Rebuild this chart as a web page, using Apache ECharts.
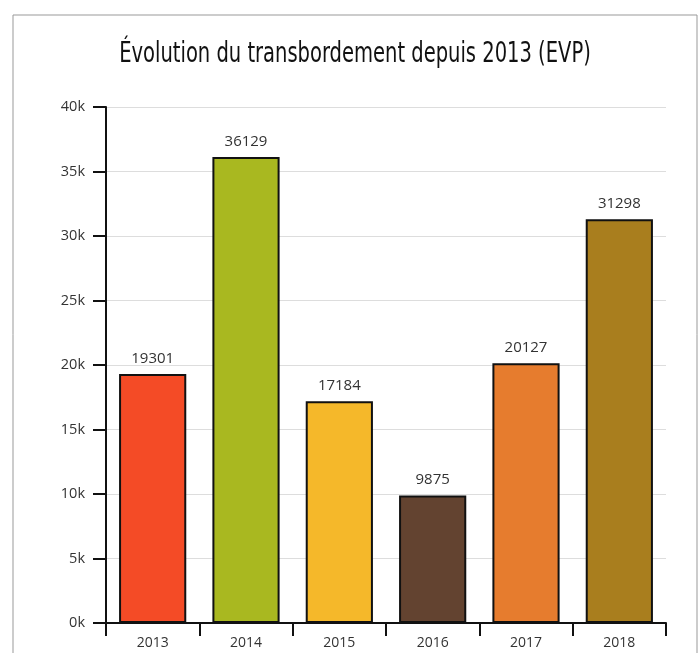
<!DOCTYPE html>
<html>
<head>
<meta charset="utf-8">
<script src="https://cdn.jsdelivr.net/npm/echarts@6/dist/echarts.min.js"></script>
<style>
  html, body { margin: 0; padding: 0; background: #fff; }
  #main { width: 700px; height: 653px; }
</style>
</head>
<body>
<div id="main"></div>
<script>
const years = ['2013', '2014', '2015', '2016', '2017', '2018']
const teu = [19301, 36129, 17184, 9875, 20127, 31298]
const barColors = ['#F44B26', '#A9B820', '#F5B82A', '#634330', '#E67C2E', '#A97E1E']
const yTicks = ['0k', '5k', '10k', '15k', '20k', '25k', '30k', '35k', '40k']
const titleText = 'Évolution du transbordement depuis 2013 (EVP)'

const chart = echarts.init(document.getElementById('main'))
chart.setOption({
  animation: false,
  graphic: [
    {
      type: 'rect',
      shape: { x: 13, y: 15, width: 684, height: 700 },
      style: { fill: 'none', stroke: '#999', lineWidth: 1 },
      silent: true
    },
    {
      // condensed title: squeeze a regular face horizontally
      type: 'text',
      x: 355,
      y: 55,
      scaleX: 0.775,
      style: {
        text: titleText,
        x: 0,
        y: 0,
        align: 'center',
        verticalAlign: 'middle',
        font: '28px "DejaVu Sans Condensed", sans-serif',
        fill: '#111'
      }
    }
  ],
  grid: { left: 106, right: 34, top: 107, bottom: 30 },
  xAxis: {
    type: 'category',
    data: years,
    axisLine: { lineStyle: { color: '#111', width: 2 } },
    axisTick: { show: true, length: 13, lineStyle: { color: '#111', width: 2 } },
    axisLabel: { color: '#333', fontFamily: 'Open Sans', fontSize: 14, margin: 13 }
  },
  yAxis: {
    type: 'value',
    min: 0,
    max: 40000,
    interval: 5000,
    axisLine: { show: true, lineStyle: { color: '#111', width: 2 } },
    axisTick: { show: true, length: 13, lineStyle: { color: '#111', width: 2 } },
    axisLabel: {
      color: '#333',
      fontFamily: 'Open Sans',
      fontSize: 14.5,
      margin: 21,
      formatter: v => yTicks[v / 5000]
    },
    splitLine: { lineStyle: { color: '#ddd' } }
  },
  series: [{
    type: 'bar',
    data: teu.map((v, i) => ({ value: v, itemStyle: { color: barColors[i] } })),
    barCategoryGap: '28%',
    itemStyle: { borderColor: '#111', borderWidth: 2 },
    label: {
      show: true,
      position: 'top',
      distance: 8,
      color: '#333',
      fontFamily: 'Open Sans',
      fontSize: 15
    }
  }]
})
</script>
</body>
</html>
